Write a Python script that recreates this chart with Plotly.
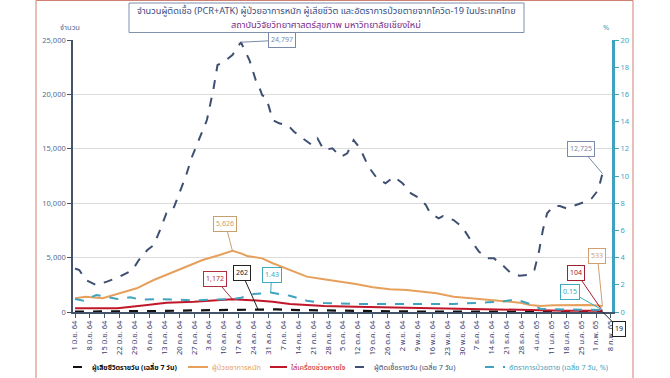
import datetime as dt
import plotly.graph_objects as go

BASE = dt.date(2021, 6, 1)

# ---- data (day offsets from 1 Jun 2021) ----
case_days = [0, 2, 5, 10, 15, 21, 27, 30, 34, 37, 40, 43, 46, 49, 52, 55, 59, 62, 65, 67, 70, 74, 78,
             80, 82, 85, 86, 88, 90, 93, 96, 100, 103, 106, 110, 111, 114, 117, 121, 125, 128, 131, 134,
             138, 142, 146, 150, 154, 158, 162, 165, 167, 171, 173, 178, 182, 186, 190, 194, 197, 201,
             205, 209, 213, 216, 218, 220, 222, 225, 228, 231, 236, 240, 243, 246, 248]
case_vals = [4000, 3860, 2940, 2480, 2790, 3250, 3860, 4780, 5700, 6150, 7540, 9100, 9370, 10940, 12430,
             14270, 16110, 17640, 20400, 22700, 23000, 23620, 24797, 23900, 23160, 21300, 21000, 19940,
             19640, 17640, 17340, 17190, 16570, 16110, 15600, 15400, 15960, 14890, 15040, 14270, 14580,
             15800, 15040, 13350, 12290, 11830, 12430, 11830, 10900, 10450, 9830, 9070, 8610, 8820, 8450,
             7840, 6620, 5540, 4930, 4930, 4320, 3560, 3340, 3400, 3860, 5390, 7540, 9070, 9740, 9740,
             9530, 9830, 10140, 10450, 11210, 12725]

severe_days = [0, 5, 13, 21, 29, 37, 45, 52, 60, 68, 74, 78, 81, 84, 88, 93, 101, 109, 117, 125, 132,
               140, 148, 156, 164, 170, 178, 186, 194, 201, 209, 214, 219, 225, 233, 241, 246, 248]
severe_vals = [1260, 1400, 1260, 1720, 2180, 2940, 3560, 4170, 4780, 5240, 5626, 5390, 5150, 5050, 4930,
               4480, 3860, 3250, 3000, 2790, 2570, 2270, 2090, 2020, 1840, 1720, 1400, 1260, 1100, 950,
               860, 640, 550, 610, 640, 640, 600, 533]

vent_days = [0, 20, 34, 43, 56, 65, 74, 87, 93, 101, 117, 132, 148, 165, 180, 200, 215, 230, 248]
vent_vals = [340, 340, 640, 860, 950, 1040, 1172, 1040, 950, 740, 550, 490, 430, 340, 280, 200, 150, 120, 104]

death_days = [0, 14, 28, 42, 56, 70, 80, 86, 95, 105, 120, 135, 150, 165, 180, 200, 215, 230, 248]
death_vals = [30, 35, 60, 100, 150, 200, 250, 262, 240, 180, 120, 85, 55, 40, 30, 22, 15, 14, 19]

cfr_days = [0, 4, 10, 15, 20, 26, 31, 40, 48, 56, 63, 74, 78, 84, 92, 101, 109, 117, 132, 148, 165,
            178, 194, 201, 206, 209, 214, 219, 225, 240, 248]
cfr_vals = [0.95, 0.83, 1.25, 1.08, 0.95, 1.08, 0.9, 0.95, 0.9, 0.86, 0.9, 0.95, 1.05, 1.32, 1.43, 1.2,
            0.83, 0.66, 0.59, 0.59, 0.62, 0.59, 0.71, 0.76, 0.9, 0.83, 0.59, 0.22, 0.2, 0.18, 0.15]

tick_labels = ["1 มิ.ย. 64", "8 มิ.ย. 64", "15 มิ.ย. 64", "22 มิ.ย. 64", "29 มิ.ย. 64", "6 ก.ค. 64",
               "13 ก.ค. 64", "20 ก.ค. 64", "27 ก.ค. 64", "3 ส.ค. 64", "10 ส.ค. 64", "17 ส.ค. 64",
               "24 ส.ค. 64", "31 ส.ค. 64", "7 ก.ย. 64", "14 ก.ย. 64", "21 ก.ย. 64", "28 ก.ย. 64",
               "5 ต.ค. 64", "12 ต.ค. 64", "19 ต.ค. 64", "26 ต.ค. 64", "2 พ.ย. 64", "9 พ.ย. 64",
               "16 พ.ย. 64", "23 พ.ย. 64", "30 พ.ย. 64", "7 ธ.ค. 64", "14 ธ.ค. 64", "21 ธ.ค. 64",
               "28 ธ.ค. 64", "4 ม.ค. 65", "11 ม.ค. 65", "18 ม.ค. 65", "25 ม.ค. 65", "1 ก.พ. 65",
               "8 ก.พ. 65"]

series_names = ["ผู้เสียชีวิตรายวัน (เฉลี่ย 7 วัน)", "ผู้ป่วยอาการหนัก", "ใส่เครื่องช่วยหายใจ",
                "ผู้ติดเชื้อรายวัน (เฉลี่ย 7 วัน)", "อัตราการป่วยตาย (เฉลี่ย 7 วัน, %)"]

title_line1 = "จำนวนผู้ติดเชื้อ (PCR+ATK) ผู้ป่วยอาการหนัก ผู้เสียชีวิต และอัตราการป่วยตายจากโควิด-19 ในประเทศไทย"
title_line2 = "สถาบันวิจัยวิทยาศาสตร์สุขภาพ มหาวิทยาลัยเชียงใหม่"


def to_dates(days):
    return [BASE + dt.timedelta(days=d) for d in days]


C_CASE = "#3e4f72"
C_SEV = "#e6a05c"
C_VENT = "#c0182a"
C_DEATH = "#111111"
C_CFR = "#3fa3bf"
FONT = "Noto Sans Thai, Tahoma, Noto Sans, sans-serif"

W, H = 670, 378
L, R, T, B = 73, 612, 40, 312
PW, PH = R - L, B - T


def px(x):
    return (x - L) / PW


def py(y):
    return (B - y) / PH


fig = go.Figure()
styles = [
    (death_days, death_vals, C_DEATH, "dash", 2.2, "y"),
    (severe_days, severe_vals, C_SEV, "solid", 2, "y"),
    (vent_days, vent_vals, C_VENT, "solid", 2, "y"),
    (case_days, case_vals, C_CASE, "dash", 2, "y"),
    (cfr_days, cfr_vals, C_CFR, "dash", 2, "y2"),
]
for (d, v, c, dash, w, ya), nm in zip(styles, series_names):
    fig.add_trace(go.Scatter(x=to_dates(d), y=v, mode="lines", name=nm, yaxis=ya,
                             line=dict(color=c, width=w, dash=dash), showlegend=False))

tickvals = [BASE + dt.timedelta(days=7 * i) for i in range(len(tick_labels))]

fig.update_layout(
    width=W, height=H,
    margin=dict(l=L, r=W - R, t=T, b=H - B, autoexpand=False),
    paper_bgcolor="white", plot_bgcolor="white",
    font=dict(family=FONT, size=8, color="#5b6a88"),
    showlegend=False,
    xaxis=dict(type="date", automargin=False,
               range=[dt.datetime(2021, 5, 31, 1, 0), dt.datetime(2022, 2, 8, 12, 0)],
               tickvals=tickvals, ticktext=tick_labels, tickangle=-90,
               tickfont=dict(size=7.5, color="#3c3c6c"),
               ticks="outside", ticklen=4, tickcolor="#44546a",
               showline=True, linecolor="#44546a", linewidth=1.5,
               showgrid=False, zeroline=False),
    yaxis=dict(range=[0, 25000], automargin=False,
               tickvals=[0, 5000, 10000, 15000, 20000, 25000],
               ticktext=["0", "5,000", "10,000", "15,000", "20,000", "25,000"],
               tickfont=dict(size=7.5, color="#5b6a88"),
               ticks="outside", ticklen=4, tickcolor="#44546a",
               showline=True, linecolor="#44546a", linewidth=1.5,
               showgrid=True, gridcolor="#dcdcdc", gridwidth=1, zeroline=False),
    yaxis2=dict(range=[0, 20], overlaying="y", side="right", automargin=False,
                tickvals=list(range(0, 21, 2)),
                tickfont=dict(size=7.5, color=C_CFR),
                ticks="outside", ticklen=4, tickcolor=C_CFR,
                showline=True, linecolor=C_CFR, linewidth=3,
                showgrid=False, zeroline=False),
)

# frame
fig.add_shape(type="rect", xref="paper", yref="paper",
              x0=px(36), x1=px(633), y0=py(400), y1=py(0.5),
              line=dict(color="#d08070", width=1), layer="below")

# title box (drawn as a shape, two separate text lines)
fig.add_shape(type="rect", xref="paper", yref="paper",
              x0=px(129), x1=px(524), y0=py(32.5), y1=py(3),
              line=dict(color="#8090b0", width=1), fillcolor="white", layer="above")
fig.add_annotation(xref="paper", yref="paper", x=px(326), y=py(11), xanchor="center", yanchor="middle",
                   showarrow=False, text=title_line1,
                   font=dict(size=9.2, family=FONT, color="#3a4f7f"))
fig.add_annotation(xref="paper", yref="paper", x=px(326), y=py(25), xanchor="center", yanchor="middle",
                   showarrow=False, text=title_line2,
                   font=dict(size=9.2, family=FONT, color="#7a2a8a"))

# axis titles
fig.add_annotation(xref="paper", yref="paper", x=px(70), y=py(28), xanchor="center", yanchor="middle",
                   text="จำนวน", showarrow=False, font=dict(size=7.5, color="#5b6a88"))
fig.add_annotation(xref="paper", yref="paper", x=px(606), y=py(28), xanchor="center", yanchor="middle",
                   text="%", showarrow=False, font=dict(size=7.5, color=C_CFR))

# manual legend
leg_y = py(367)
leg_items = [(73, 88, C_DEATH, "dash", "#111111", True),
             (188, 208, C_SEV, "solid", C_SEV, False),
             (270, 287, C_VENT, "solid", C_VENT, False),
             (355, 370, C_CASE, "dash", C_CASE, False),
             (485, 505, C_CFR, "dash", C_CFR, False)]
for (x0, x1, c, dash, tc, bold), nm in zip(leg_items, series_names):
    fig.add_shape(type="line", xref="paper", yref="paper", x0=px(x0), x1=px(x1), y0=leg_y, y1=leg_y,
                  line=dict(color=c, width=2, dash=dash))
    fig.add_annotation(xref="paper", yref="paper", x=px(x1 + 2), y=leg_y, xanchor="left",
                       yanchor="middle", showarrow=False,
                       text=f"<b>{nm}</b>" if bold else nm,
                       font=dict(size=7 if bold else 7.4, color=tc))


# value callouts
def callout(text, xd, yv, bx, by, color, yref="y"):
    fig.add_annotation(x=BASE + dt.timedelta(days=xd), y=yv, yref=yref, xref="x",
                       text=text, showarrow=True, arrowhead=0, arrowwidth=1, arrowcolor=color,
                       ax=bx, ay=by, axref="pixel", ayref="pixel", standoff=0,
                       font=dict(size=7, color=color), bordercolor=color, borderwidth=1,
                       borderpad=2, bgcolor="white")


callout("24,797", case_days[case_vals.index(24797)], 24797, 41, -2, "#7a8aa8")
callout("5,626", severe_days[severe_vals.index(5626)], 5626, -7, -27, "#c8a070")
callout("1,172", vent_days[vent_vals.index(1172)], 1172, -17, -20, "#b03040")
callout("262", death_days[death_vals.index(262)], 262, -16, -36, "#222222")
callout("1.43", cfr_days[cfr_vals.index(1.43)], 1.43, 1, -18, "#40a8c0", yref="y2")
callout("12,725", case_days[-1], case_vals[-1], -21, -25, "#7a8aa8")
callout("533", severe_days[-1], severe_vals[-1], -5, -50, "#d0a070")
callout("104", vent_days[-1], vent_vals[-1], -26, -38, "#a02030")
callout("0.15", cfr_days[-1], cfr_vals[-1], -32, -18, "#40a8c0", yref="y2")
callout("19", death_days[-1], death_vals[-1], 17, 17, "#222222")

fig.write_html("out.html", config={"displayModeBar": False},
               post_script="document.body.style.margin='0';")
